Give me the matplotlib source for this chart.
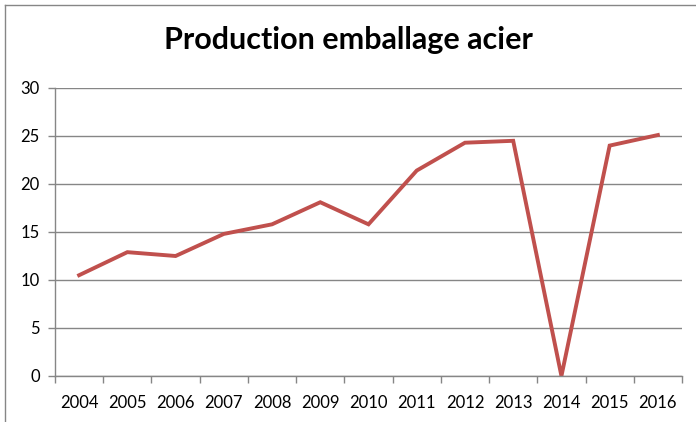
import matplotlib
matplotlib.use("Agg")
import matplotlib.pyplot as plt
import numpy as np
from matplotlib.lines import Line2D

years = ["2004", "2005", "2006", "2007", "2008", "2009", "2010",
         "2011", "2012", "2013", "2014", "2015", "2016"]
production = [10.5, 12.9, 12.5, 14.8, 15.8, 18.1, 15.8,
              21.4, 24.3, 24.5, 0.0, 24.0, 25.1]

plt.rcParams['font.family'] = ['Lato', 'DejaVu Sans']
grey = '#868686'

fig = plt.figure(figsize=(6.96, 4.22), dpi=100)
ax = fig.add_axes([55 / 696, 46 / 422, 627 / 696, 288 / 422])

x = np.arange(len(years))
ax.plot(x, production, color='#C0504D', linewidth=2.8, solid_joinstyle='miter')

ax.set_xlim(-0.5, len(years) - 0.5)
ax.set_ylim(0, 30)
ax.set_yticks(range(0, 31, 5))
ax.set_xticks(x)
ax.set_xticklabels(years)
ax.set_xticks(np.arange(-0.5, len(years), 1), minor=True)
ax.tick_params(axis='x', which='major', length=0, pad=14, labelsize=12)
ax.tick_params(axis='x', which='minor', length=5, color=grey, width=1)
ax.tick_params(axis='y', length=5, color=grey, width=1, labelsize=12, pad=6)

ax.grid(axis='y', color=grey, linewidth=1)
ax.set_axisbelow(True)
for side in ['top', 'right']:
    ax.spines[side].set_visible(False)
for side in ['left', 'bottom']:
    ax.spines[side].set_color(grey)
    ax.spines[side].set_linewidth(1)

fig.text(0.5, 1 - 40 / 422, "Production emballage acier", ha='center', va='center',
         fontsize=22, fontweight='bold')

# chart area border
bx = 4.5 / 696
by = 1 - 4.5 / 422
fig.add_artist(Line2D([bx, bx], [0, by], color=grey, linewidth=1, transform=fig.transFigure))
fig.add_artist(Line2D([bx, 1], [by, by], color=grey, linewidth=1, transform=fig.transFigure))

fig.savefig('out.png', dpi=100)
